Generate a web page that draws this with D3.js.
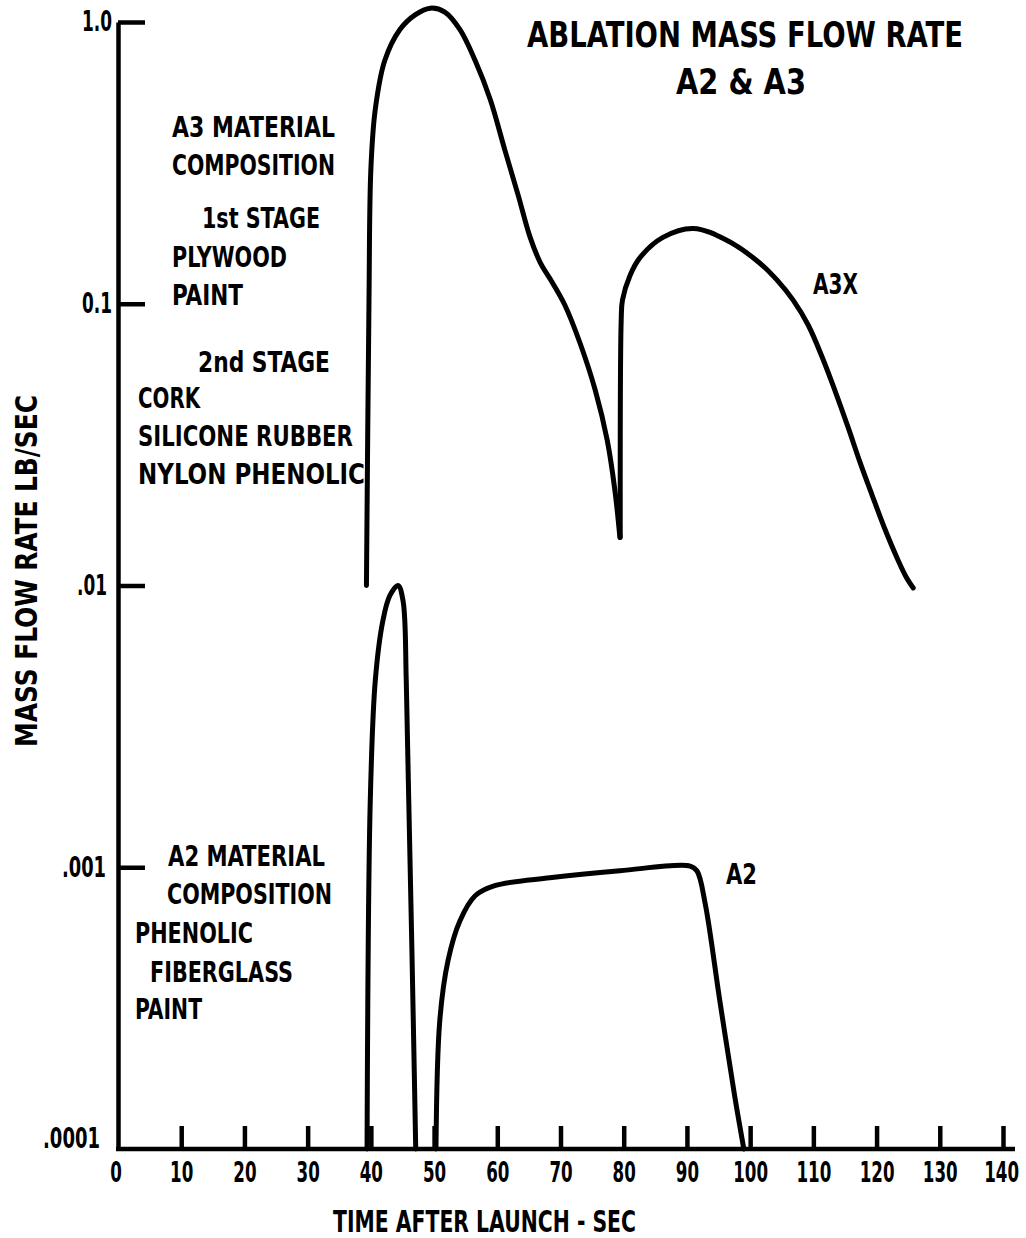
<!DOCTYPE html>
<html><head><meta charset="utf-8">
<script src="https://cdn.jsdelivr.net/npm/d3@7"></script>
<style>
body{margin:0;background:#fff;}
svg text{font-family:"Liberation Sans Narrow","DejaVu Sans Condensed","Roboto Condensed",sans-serif;font-weight:bold;fill:#000;}
</style></head><body>
<svg id="chart" width="1026" height="1238"></svg>
<script>
// ---- data ----
const xTicks = [0,10,20,30,40,50,60,70,80,90,100,110,120,130,140];
const yTicks = [1,0.1,0.01,0.001,0.0001];
const yTickLabels = ["1.0","0.1",".01",".001",".0001"];

// A3, first stage hump (time s, mass flow lb/s)
const a3Time  = [39.3,39.7,40.0,40.7,42.2,44.6,47.0,49.4,51.7,54.1,56.5,58.9,61.2,63.3,65.2,66.8,68.7,70.7,73.1,75.5,77.4,78.6,79.4];
const a3Value = [0.0100,0.100,0.30,0.49,0.73,0.94,1.06,1.12,1.085,0.94,0.73,0.53,0.351,0.243,0.172,0.140,0.119,0.0988,0.0724,0.0493,0.0327,0.0218,0.0148];
// A3X, second stage
const a3xTime  = [79.45,79.6,79.8,81.0,82.6,86.2,91.0,96.3,101.6,104.3,106.8,109.2,111.4,113.4,115.5,117.4,119.3,121.3,123.4,124.7,125.8];
const a3xValue = [0.0148,0.087,0.103,0.126,0.146,0.172,0.185,0.168,0.139,0.121,0.103,0.0839,0.0646,0.0493,0.0364,0.0273,0.0209,0.0159,0.0123,0.0107,0.0098];
// A2, first spike
const a2aTime  = [39.4,39.9,40.7,41.9,43.0,44.3,45.1,45.6,46.0,46.5,47.1];
const a2aValue = [0.0001,0.0017,0.0046,0.0075,0.0092,0.0100,0.0088,0.0046,0.0017,0.0005,0.0001];
// A2, second plateau
const a2bTime  = [50.3,50.9,52.2,54.1,56.5,59.6,68.3,79.4,90.5,91.6,92.9,95.2,97.6,99.0];
const a2bValue = [0.0001,0.000285,0.000466,0.000646,0.000792,0.00086,0.000918,0.000972,0.00101,0.00097,0.00074,0.000336,0.000152,0.0001];

const titleLines = ["ABLATION MASS FLOW RATE","A2 & A3"];
const a3Notes = ["A3 MATERIAL","COMPOSITION","1st STAGE","PLYWOOD","PAINT","2nd STAGE","CORK","SILICONE RUBBER","NYLON PHENOLIC"];
const a2Notes = ["A2 MATERIAL","COMPOSITION","PHENOLIC","FIBERGLASS","PAINT"];
const xTitle = "TIME AFTER LAUNCH - SEC";
const yTitle = "MASS FLOW RATE LB/SEC";

// ---- layout ----
const svg = d3.select("#chart");
const x = d3.scaleLinear().domain([0,140]).range([118,1003]);
const y = d3.scaleLog().domain([0.0001,1]).range([1149,22]);

const sw = 4.5;

// y axis
const gy = svg.append("g").attr("transform",`translate(${x(0)},0)`)
  .call(d3.axisLeft(y).tickValues(yTicks).tickFormat((d,i)=>yTickLabels[i])
    .tickSize(-27).tickSizeOuter(0).tickPadding(6));
gy.select(".domain").attr("stroke","#000").attr("stroke-width",sw);
gy.selectAll(".tick line").attr("stroke","#000").attr("stroke-width",sw);
gy.selectAll(".tick text").attr("font-size",28).attr("font-family",null)
  .attr("textLength",d=>{const s=yTickLabels[yTicks.indexOf(d)];return s.length<=3?30:(s.length===4?44:57);})
  .attr("lengthAdjust","spacingAndGlyphs");
gy.selectAll(".tick").filter(d=>d===0.0001).select("text").attr("dy","-0.05em").attr("x",-18);
gy.selectAll(".tick").filter(d=>d===0.001).select("text").attr("x",-12);
gy.selectAll(".tick").filter(d=>d===0.01).select("text").attr("x",-11);
gy.selectAll(".tick").filter(d=>d===0.0001).select("line").remove();

// x axis
const gx = svg.append("g").attr("transform",`translate(0,${y(0.0001)})`)
  .call(d3.axisBottom(x).tickValues(xTicks).tickSize(-23).tickSizeOuter(0).tickPadding(12));
gx.select(".domain").attr("stroke","#000").attr("stroke-width",sw)
  .attr("d",`M${x(0)-2},0H${x(140)+12}`);
gx.selectAll(".tick line").attr("stroke","#000").attr("stroke-width",sw);
gx.selectAll(".tick").filter(d=>d===0).select("line").remove();
gx.selectAll(".tick text").attr("font-size",29).attr("font-family",null)
  .attr("transform","scale(0.64,1)");
gx.selectAll(".tick").filter(d=>d===0).select("text").attr("x",-4);
gx.selectAll(".tick").filter(d=>d===140).select("text").attr("x",-3);

// curves
const line = d3.line().x(d=>x(d[0])).y(d=>y(d[1])).curve(d3.curveCatmullRom.alpha(0.5));
const series = [
  d3.zip(a3Time,a3Value),
  d3.zip(a3xTime,a3xValue),
  d3.zip(a2aTime,a2aValue),
  d3.zip(a2bTime,a2bValue)
];
svg.append("g").selectAll("path").data(series).join("path")
  .attr("d",line).attr("fill","none").attr("stroke","#000")
  .attr("stroke-width",5).attr("stroke-linejoin","round").attr("stroke-linecap","round");

// text helper
function label(t, xl, yb, w, size, anchor){
  const el = svg.append("text").attr("x",xl).attr("y",yb).attr("font-size",size).text(t);
  if (w) el.attr("textLength",w).attr("lengthAdjust","spacingAndGlyphs");
  if (anchor) el.attr("text-anchor",anchor);
  return el;
}
// title
label(titleLines[0],527,47,436,35);
label(titleLines[1],676,94,130,35);

// A3 notes
const a3Pos = [[172,137,163],[172,175,163],[202,228,118],[172,267,115],[172,305,71],
               [198,372,132],[138,408,62],[138,446,215],[138,484,227]];
a3Notes.forEach((t,i)=>label(t,a3Pos[i][0],a3Pos[i][1],a3Pos[i][2],29));
// A2 notes
const a2Pos = [[168,866,157],[167,904,165],[135,943,118],[150,982,143],[135,1019,67]];
a2Notes.forEach((t,i)=>label(t,a2Pos[i][0],a2Pos[i][1],a2Pos[i][2],29));

// series labels
label("A3X",813,294,45,28);
label("A2",726,884,31,28);

// axis titles
label(xTitle,333,1232,303,30);
svg.append("text").attr("transform","translate(37,571) rotate(-90)")
  .attr("text-anchor","middle").attr("font-size",31)
  .attr("textLength",352).attr("lengthAdjust","spacingAndGlyphs").text(yTitle);
</script>
</body></html>
